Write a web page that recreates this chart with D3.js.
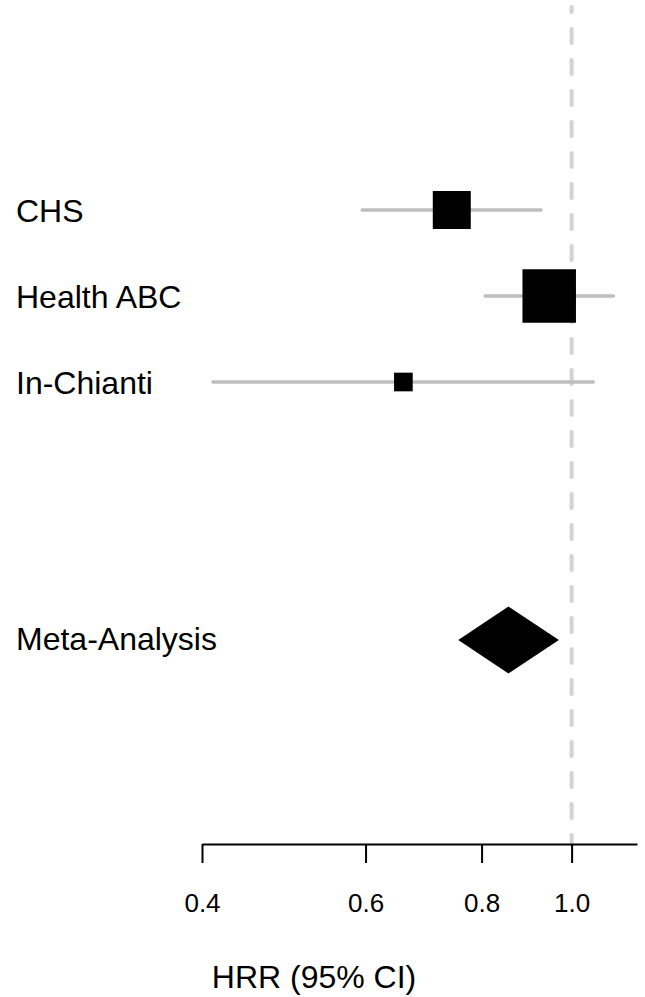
<!DOCTYPE html>
<html>
<head>
<meta charset="utf-8">
<script src="https://cdn.jsdelivr.net/npm/d3@7"></script>
<style>
	body { margin: 0; background: #fff; }
	svg { display: block; font-family: "Liberation Sans", Arial, Helvetica, sans-serif; }
</style>
</head>
<body>
<div id="chart"></div>
<script>
var width = 645;
var height = 997;

//////// Data
var studies = ["CHS", "Health ABC", "In-Chianti"];
var hrr = [0.743, 0.946, 0.659];
var lower = [0.595, 0.807, 0.411];
var upper = [0.927, 1.109, 1.055];
var weights = [31.0, 61.5, 7.5];

var metaLabel = "Meta-Analysis";
var metaHrr = 0.855;
var metaLower = 0.755;
var metaUpper = 0.969;

var tickValues = [0.4, 0.6, 0.8, 1.0];
var xLimits = [0.4, 1.176];
var refValue = 1.0;
var axisTitle = "HRR (95% CI)";

//////// Layout
var studyRows = [1, 2, 3];
var metaRow = 6;
var axisY = 844;

var x = d3.scaleLog()
	.domain(xLimits)
	.range([202, 637]);

var y = d3.scaleLinear()
	.domain([1, 6])
	.range([210, 640]);

var boxSize = d3.scaleSqrt()
	.domain([0, d3.max(weights)])
	.range([0, 53.5]);

var svg = d3.select("#chart").append("svg")
	.attr("width", width)
	.attr("height", height);

// reference line at 1
svg.append("line")
	.attr("x1", x(refValue))
	.attr("x2", x(refValue))
	.attr("y1", 7)
	.attr("y2", axisY)
	.attr("stroke", "#d3d3d3")
	.attr("stroke-width", 4)
	.attr("stroke-linecap", "round")
	.attr("stroke-dasharray", "14 17")
	.attr("stroke-dashoffset", 9);

var data = studies.map(function(s, i) {
	return { name: s, est: hrr[i], lo: lower[i], hi: upper[i], w: weights[i], row: studyRows[i] };
});

// confidence intervals
svg.selectAll(".ci")
	.data(data)
	.enter().append("line")
	.attr("class", "ci")
	.attr("x1", d => x(d.lo))
	.attr("x2", d => x(d.hi))
	.attr("y1", d => y(d.row))
	.attr("y2", d => y(d.row))
	.attr("stroke", "#bebebe")
	.attr("stroke-width", 3.5)
	.attr("stroke-linecap", "round");

// boxes
svg.selectAll(".box")
	.data(data)
	.enter().append("rect")
	.attr("class", "box")
	.attr("x", d => x(d.est) - boxSize(d.w) / 2)
	.attr("y", d => y(d.row) - boxSize(d.w) / 2)
	.attr("width", d => boxSize(d.w))
	.attr("height", d => boxSize(d.w))
	.attr("fill", "#000");

// meta-analysis diamond
var my = y(metaRow);
var half = 33.5;
svg.append("path")
	.attr("d", "M" + x(metaLower) + "," + my +
		"L" + x(metaHrr) + "," + (my - half) +
		"L" + x(metaUpper) + "," + my +
		"L" + x(metaHrr) + "," + (my + half) + "Z")
	.attr("fill", "#000");

// labels
svg.selectAll(".label")
	.data(data)
	.enter().append("text")
	.attr("class", "label")
	.attr("x", 16)
	.attr("y", d => y(d.row) + 12)
	.attr("font-size", 32)
	.text(d => d.name);

svg.append("text")
	.attr("x", 16)
	.attr("y", my + 10)
	.attr("font-size", 32)
	.text(metaLabel);

// axis
var axis = svg.append("g")
	.attr("transform", "translate(0," + axisY + ")")
	.call(d3.axisBottom(x)
		.tickValues(tickValues)
		.tickFormat(d3.format(".1f"))
		.tickSize(19)
		.tickSizeOuter(0));

axis.attr("font-family", null).attr("font-size", 26);
axis.select(".domain").attr("stroke", "#000").attr("stroke-width", 2);
axis.selectAll(".tick line").attr("stroke", "#000").attr("stroke-width", 2);
axis.selectAll(".tick text")
	.attr("y", 68)
	.attr("dy", null)
	.attr("fill", "#000");

svg.append("text")
	.attr("x", 314)
	.attr("y", 988)
	.attr("text-anchor", "middle")
	.attr("font-size", 32)
	.text(axisTitle);
</script>
</body>
</html>
